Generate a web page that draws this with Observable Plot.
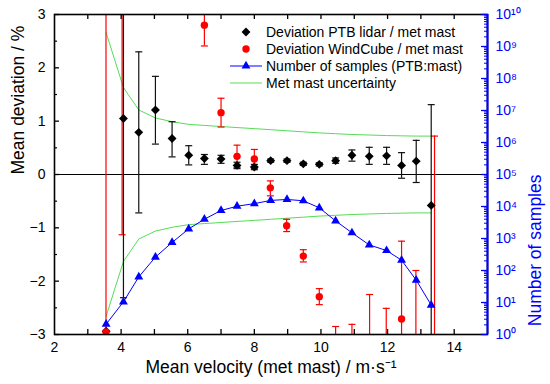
<!DOCTYPE html>
<html><head><meta charset="utf-8">
<script src="https://cdn.jsdelivr.net/npm/d3@7"></script>
<script src="https://cdn.jsdelivr.net/npm/@observablehq/plot@0.6"></script>
<style>
body{margin:0;background:#fff;font-family:"Liberation Sans",Arial,sans-serif;}
#wrap{position:relative;width:550px;height:384px;overflow:hidden;}
#wrap svg{position:absolute;left:0;top:0;}
</style></head><body><div id="wrap"></div>
<script>
// ---- data ----
const ptbVelocity = [3.55, 4.07, 4.53, 5.03, 5.53, 6.03, 6.5, 7.0, 7.48, 8.0, 8.49, 8.98, 9.47, 9.95, 10.44, 10.93, 11.45, 11.97, 12.42, 12.86, 13.31];
const ptbDeviation = [-2.94, 1.05, 0.79, 1.21, 0.675, 0.36, 0.30, 0.29, 0.17, 0.14, 0.26, 0.26, 0.20, 0.19, 0.26, 0.36, 0.34, 0.35, 0.17, 0.25, -0.58];
const ptbErrLow = [null, -2.31, -0.72, 0.57, 0.33, 0.18, 0.19, 0.21, 0.11, 0.09, 0.23, 0.23, 0.17, 0.16, 0.21, 0.25, 0.19, 0.19, -0.07, -0.15, -4.5];
const ptbErrHigh = [null, 4.4, 2.30, 1.84, 0.99, 0.54, 0.375, 0.36, 0.23, 0.19, 0.29, 0.29, 0.23, 0.22, 0.31, 0.46, 0.51, 0.51, 0.41, 0.64, 1.31];

const wcVelocity = [3.546, 4.03, 6.5, 7.0, 7.48, 8.0, 8.48, 8.97, 9.47, 9.95, 10.44, 10.93, 11.46, 11.96, 12.42, 12.85, 13.41];
const wcDeviation = [-2.95, 3.8, 2.80, 1.16, 0.34, 0.29, -0.25, -0.96, -1.53, -2.29, -4.0, -4.0, -4.5, -4.3, -2.71, -3.6, -4.0];
const wcErrLow = [-9, -1.13, 2.41, 0.89, 0.13, 0.11, -0.40, -1.07, -1.64, -2.44, -5.2, -5.2, -6.8, -6.1, -4.2, -5.4, -8.7];
const wcErrHigh = [9, 8.7, 3.19, 1.43, 0.55, 0.47, -0.12, -0.84, -1.41, -2.14, -2.85, -2.81, -2.25, -2.51, -1.25, -1.80, 0.72];

const sampleVelocity = ptbVelocity;
const sampleCount = [2.1, 10.5, 63, 263, 750, 2000, 4000, 7500, 10200, 12300, 15500, 16600, 15100, 9100, 3550, 1510, 630, 420, 210, 50, 8.3];

const uncVelocity = ptbVelocity;
const uncValue = [2.66, 1.63, 1.21, 1.06, 0.99, 0.94, 0.92, 0.90, 0.88, 0.86, 0.84, 0.82, 0.80, 0.78, 0.765, 0.75, 0.74, 0.73, 0.725, 0.72, 0.72];

const xDomain = [2, 15];
const yDomain = [-3, 3];
const xTickLabels = [2, 4, 6, 8, 10, 12, 14];
const xTicksAll = [3, 4, 5, 6, 7, 8, 9, 10, 11, 12, 13, 14];
const yTicks = [-3, -2, -1, 0, 1, 2, 3];
const yMinorTicks = [-2.5, -1.5, -0.5, 0.5, 1.5, 2.5];
const logDomain = [1, 1e10];
const logTicks = d3.range(0, 11).map(k => Math.pow(10, k));
const logMinorTicks = d3.range(0, 10).flatMap(k => d3.range(2, 10).map(m => m * Math.pow(10, k)));

const legendLabels = ["Deviation PTB lidar / met mast", "Deviation WindCube / met mast", "Number of samples (PTB:mast)", "Met mast uncertainty"];
const xLabel = "Mean velocity (met mast) / m·s⁻¹";
const yLabel = "Mean deviation / %";
const y2Label = "Number of samples";

// ---- tables ----
const ptb = ptbVelocity.map((x, i) => ({x, y: ptbDeviation[i], lo: ptbErrLow[i], hi: ptbErrHigh[i]}));
const ptbBars = ptb.filter(d => d.lo != null);
const ptbCaps = ptbBars.flatMap(d => [{x: d.x, y: d.lo}, {x: d.x, y: d.hi}]);
const wc = wcVelocity.map((x, i) => ({x, y: wcDeviation[i], lo: wcErrLow[i], hi: wcErrHigh[i]}));
const wcCaps = wc.flatMap(d => [{x: d.x, y: d.lo}, {x: d.x, y: d.hi}]);
const samples = sampleVelocity.map((x, i) => ({x, n: sampleCount[i]}));
const unc = uncVelocity.map((x, i) => ({x, u: uncValue[i]}));

const W = 550, H = 384, ML = 54, MR = 63, MT = 14, MB = 50;
const PW = W - ML - MR, PH = H - MT - MB;
const BLUE = "#0000ff", RED = "#ff0000", GREEN = "#55dd55";
const FONT = "Liberation Sans, Arial, sans-serif";

const capSymbol = {draw(ctx, size) { const w = Math.sqrt(size / Math.PI); ctx.moveTo(-w, 0); ctx.lineTo(w, 0); }};
const sup = {"0":"⁰","1":"¹","2":"²","3":"³","4":"⁴","5":"⁵","6":"⁶","7":"⁷","8":"⁸","9":"⁹"};
const fmtPow = d => "10" + String(Math.round(Math.log10(d))).split("").map(c => sup[c]).join("");
const fmtInt = d => d < 0 ? "−" + (-d) : String(d);

const common = {width: W, height: H, marginLeft: ML, marginRight: MR, marginTop: MT, marginBottom: MB,
  style: {background: "transparent", fontFamily: FONT}};

const p1 = Plot.plot({
  ...common,
  x: {domain: xDomain},
  y: {domain: yDomain},
  marks: [
    Plot.ruleY([0], {stroke: "black", strokeWidth: 1}),
    Plot.line(unc, {x: "x", y: "u", stroke: GREEN, strokeWidth: 1, clip: true}),
    Plot.line(unc, {x: "x", y: d => -d.u, stroke: GREEN, strokeWidth: 1, clip: true}),
    Plot.ruleX(wc, {x: "x", y1: "lo", y2: "hi", stroke: RED, strokeWidth: 1.2, clip: true}),
    Plot.dot(wcCaps, {x: "x", y: "y", symbol: capSymbol, r: 3.5, fill: "none", stroke: RED, strokeWidth: 1.2, clip: true}),
    Plot.ruleX(ptbBars, {x: "x", y1: "lo", y2: "hi", stroke: "#111", strokeWidth: 1.2, clip: true}),
    Plot.dot(ptbCaps, {x: "x", y: "y", symbol: capSymbol, r: 3.5, fill: "none", stroke: "#111", strokeWidth: 1.2, clip: true}),
    Plot.dot(ptb, {x: "x", y: "y", symbol: "diamond2", r: 4, fill: "black", clip: true}),
    Plot.dot(wc, {x: "x", y: "y", r: 3.7, fill: RED, clip: true}),
    Plot.frame({stroke: "black", strokeWidth: 1.6}),
    Plot.ruleY(yTicks, {y: d => d, insetRight: PW - 5, stroke: "black", strokeWidth: 1.3}),
    Plot.ruleY(yMinorTicks, {y: d => d, insetRight: PW - 3, stroke: "black", strokeWidth: 1.2}),
    Plot.ruleX(xTicksAll, {x: d => d, insetBottom: PH - 5, stroke: "black", strokeWidth: 1.3}),
    Plot.ruleX(xTicksAll, {x: d => d, insetTop: PH - 5, stroke: "black", strokeWidth: 1.3}),
    Plot.axisY({ticks: yTicks, tickFormat: fmtInt, tickSize: 0, tickPadding: 9, fontSize: 14, label: null}),
    Plot.axisX({ticks: xTickLabels, tickFormat: fmtInt, tickSize: 0, tickPadding: 8, fontSize: 14, label: null}),
    Plot.text([xLabel], {text: d => d, frameAnchor: "bottom", dy: 38, fontSize: 17.5, fill: "black"}),
    Plot.text([yLabel], {text: d => d, frameAnchor: "left", dx: -36, rotate: -90, fontSize: 17.5, fill: "black"})
  ]
});

const p2 = Plot.plot({
  ...common,
  x: {domain: xDomain, axis: null},
  y: {type: "log", domain: logDomain},
  marks: [
    Plot.line(samples, {x: "x", y: "n", stroke: BLUE, strokeWidth: 1}),
    Plot.dot(samples, {x: "x", y: "n", symbol: "triangle", r: 3.3, fill: BLUE}),
    Plot.ruleX([xDomain[1]], {x: d => d, stroke: BLUE, strokeWidth: 2}),
    Plot.ruleY(logTicks, {y: d => d, insetLeft: PW - 6, stroke: BLUE, strokeWidth: 1.3}),
    Plot.ruleY(logMinorTicks, {y: d => d, insetLeft: PW - 3, stroke: BLUE, strokeWidth: 1}),
    Plot.axisY({anchor: "right", ticks: logTicks, tickFormat: fmtPow, tickSize: 0, tickPadding: 8, fontSize: 14, color: BLUE, label: null}),
    Plot.text([y2Label], {text: d => d, frameAnchor: "right", dx: 48, rotate: -90, fontSize: 17.5, fill: BLUE})
  ]
});

const wrap = document.getElementById("wrap");
wrap.appendChild(p1);
wrap.appendChild(p2);

// ---- legend ----
const ns = "http://www.w3.org/2000/svg";
const lg = document.createElementNS(ns, "svg");
lg.setAttribute("width", W); lg.setAttribute("height", H);
lg.setAttribute("style", "position:absolute;left:0;top:0;pointer-events:none");
const rowY = [32, 49, 66, 83];
const sx = 246;
function el(tag, attrs) { const e = document.createElementNS(ns, tag); for (const k in attrs) e.setAttribute(k, attrs[k]); lg.appendChild(e); return e; }
el("path", {d: d3.symbol(d3.symbolDiamond2, 4 * 4 * Math.PI)(), transform: `translate(${sx},${rowY[0]})`, fill: "black"});
el("circle", {cx: sx, cy: rowY[1], r: 3.7, fill: RED});
el("line", {x1: 230, x2: 262, y1: rowY[2], y2: rowY[2], stroke: BLUE, "stroke-width": 1});
el("path", {d: d3.symbol(d3.symbolTriangle, 3.3 * 3.3 * Math.PI)(), transform: `translate(${sx},${rowY[2]})`, fill: BLUE});
el("line", {x1: 230, x2: 262, y1: rowY[3], y2: rowY[3], stroke: GREEN, "stroke-width": 1});
legendLabels.forEach((t, i) => {
  const tx = el("text", {x: 266, y: rowY[i], "dominant-baseline": "central", "font-size": 14, "font-family": FONT, fill: "black"});
  tx.textContent = t;
});
wrap.appendChild(lg);
</script>
</body></html>
